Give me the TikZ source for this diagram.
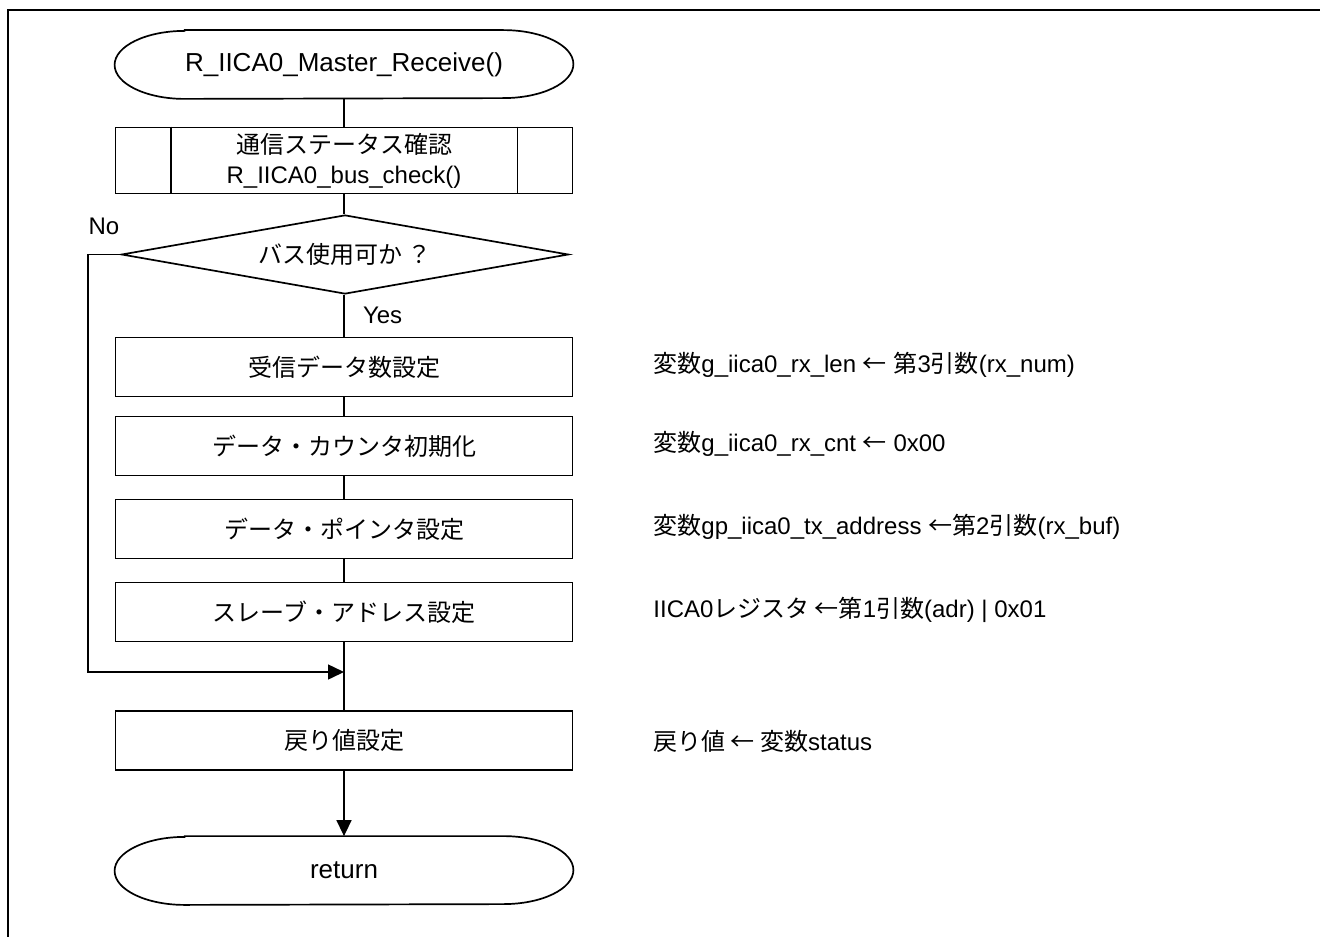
\documentclass[tikz,border=0pt]{standalone}
\usepackage{fontspec}
\setmainfont{Liberation Sans}
\newfontfamily\jpfont{Noto Sans CJK JP}
\newcommand{\jtext}[1]{{\jpfont #1}}
\usetikzlibrary{shapes.geometric,arrows.meta}
\tikzset{
  box/.style={draw, line width=0.85pt, minimum width=228.5pt, minimum height=29.5pt, inner sep=0pt},
  subbox/.style={box, minimum height=33pt, align=center},
  term/.style={minimum width=229pt, minimum height=34pt, inner sep=0pt, font=\fontsize{13}{15}\selectfont},
  cond/.style={diamond, draw, line width=0.85pt, aspect=5.6, minimum width=223.5pt, minimum height=39.5pt, inner sep=0pt},
  note/.style={anchor=west, inner sep=0pt},
  flow/.style={line width=0.75pt},
  tip/.style={flow, -{Triangle[length=8pt,width=7.5pt]}},
}
\begin{document}
\begin{tikzpicture}[x=0.5pt,y=-0.5pt,font=\fontsize{12}{15}\selectfont]
\useasboundingbox (0,0) rectangle (1320,936);
\draw[line width=1.2pt] (8,10) rectangle (1340,960);

% main flow
\node[term] (start) at (344,64.5) {R\_IICA0\_Master\_Receive()};
\node[subbox] (sub) at (344,160.5) {\jtext{通信ステータス確認}\\R\_IICA0\_bus\_check()};
\draw[line width=0.85pt] ([xshift=28pt]sub.north west) -- ([xshift=28pt]sub.south west)
  ([xshift=-28pt]sub.north east) -- ([xshift=-28pt]sub.south east);
\node[cond] (bus) at (345,254.5) {\jtext{バス使用可か ？}};
\node[box] (rxlen) at (344,367) {\jtext{受信データ数設定}};
\node[box] (rxcnt) at (344,446) {\jtext{データ・カウンタ初期化}};
\node[box] (ptr) at (344,529) {\jtext{データ・ポインタ設定}};
\node[box] (slave) at (344,612) {\jtext{スレーブ・アドレス設定}};
\node[box] (ret) at (344,740.5) {\jtext{戻り値設定}};
\node[term] (stop) at (344,870.5) {return};

% terminal outlines
\foreach \n in {start,stop}
  \draw[line width=0.85pt] ([xshift=35pt]\n.north west) -- ([xshift=-35pt]\n.north east)
    arc[start angle=90,end angle=-90,x radius=35pt,y radius=17pt]
    -- ([xshift=35pt]\n.south west)
    arc[start angle=270,end angle=90,x radius=35pt,y radius=17pt] -- cycle;

\node[anchor=west] (yes) at (356,315) {Yes};
\node (no) at (104,226) {No};
\coordinate (merge) at (344,672);
\coordinate (nocorner) at (88,254.5);

\draw[flow] (start) -- (sub);
\draw[flow] (sub.south) -- (sub.south |- bus.north);
\draw[flow] (rxlen.north |- bus.south) -- (rxlen.north);
\draw[flow] (rxlen) -- (rxcnt);
\draw[flow] (rxcnt) -- (ptr);
\draw[flow] (ptr) -- (slave);
\draw[flow] (slave) -- (ret);
\draw[tip] (bus.west) -- (nocorner) |- (merge);
\draw[tip] (ret) -- (stop);

% notes
\node[note] (n1) at (653,365) {\jtext{変数}g\_iica0\_rx\_len \jtext{←} \jtext{第}3\jtext{引数}(rx\_num)};
\node[note] (n2) at (653,444) {\jtext{変数}g\_iica0\_rx\_cnt \jtext{←} 0x00};
\node[note] (n3) at (653,527) {\jtext{変数}gp\_iica0\_tx\_address \jtext{←第}2\jtext{引数}(rx\_buf)};
\node[note] (n4) at (653,610) {IICA0\jtext{レジスタ ←第}1\jtext{引数}(adr) \textbar{} 0x01};
\node[note] (n5) at (653,741) {\jtext{戻り値 ← 変数}status};
\end{tikzpicture}
\end{document}
